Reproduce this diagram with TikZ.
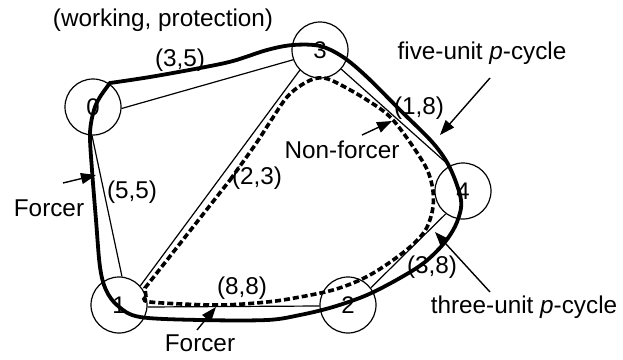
\documentclass[tikz,border=0pt]{standalone}
\usepackage{fontspec}
\setmainfont{Liberation Sans}
\usetikzlibrary{arrows.meta}
\begin{document}
\begin{tikzpicture}[x=1pt,y=-1pt,
  nd/.style={circle,draw,line width=1.2pt,minimum size=56pt,inner sep=0pt,font=\fontsize{24}{28}\selectfont},
  edge/.style={line width=1.2pt},
  fivecyc/.style={line width=3.8pt,line join=miter},
  threecyc/.style={line width=3.6pt,dash pattern=on 6pt off 3pt},
  lbl/.style={font=\fontsize{24.3}{28}\selectfont,inner sep=0pt},
  pointer/.style={line width=1.4pt,-{Triangle[length=15pt,width=11pt]}}]
\useasboundingbox (0,0) rectangle (623,359);
% nodes
\node[nd] (n0) at (93,107) {0};
\node[nd] (n3) at (320,50) {3};
\node[nd] (n4) at (463,191) {4};
\node[nd] (n2) at (348,305) {2};
\node[nd] (n1) at (119,305) {1};
% physical links
\draw[edge] (n0.-3) -- (n3.200);
\draw[edge] (n0.-92) -- (n1.84);
\draw[edge] (n1.42) -- (n3.225);
\draw[edge] (n1.-4) -- (n2.182);
\draw[edge] (n2.37) -- (n4.233);
\draw[edge] (n3.-42) -- (n4.118);
% five-unit p-cycle (sharp corner at node 0)
\draw[fivecyc] plot[smooth,tension=0.55] coordinates {
 (110,83) (150,77) (200,68) (233,61) (267,50) (293,45) (320,46) (343,57)
 (367,77) (400,110) (433,143) (450,168) (461,200) (457,222) (445,242)
 (425,262) (400,278) (367,295) (333,307) (300,315) (267,320) (200,320)
 (140,317) (118,306) (106,290) (100,267) (96,220) (92,170) (90,133) (94,110) (100,97) (110,83)} -- cycle;
% three-unit p-cycle
\draw[threecyc] (146,297) -- (145,288) -- (230,180)
  plot[smooth,tension=0.55] coordinates {(230,180) (255,145) (270,122) (287,97) (303,84) (318,78)
 (333,81) (367,100) (393,120) (423,162) (432,185) (433,207) (426,229) (410,247)
 (383,267) (360,280) (333,290) (300,297) (267,302) (217,305) (150,302) (146,297)};
% labels
\node[lbl] (title) at (163,20) {(working, protection)};
\node[lbl] (l35) at (180,60) {(3,5)};
\node[lbl] (l18) at (419,108) {(1,8)};
\node[lbl] (l23) at (257,178) {(2,3)};
\node[lbl] (l55) at (132,192) {(5,5)};
\node[lbl] (l88) at (242,288) {(8,8)};
\node[lbl] (l38) at (432,267) {(3,8)};
\node[lbl] (tfive) at (482,53) {five-unit \textit{p}-cycle};
\node[lbl] (tnon) at (342,150) {Non-forcer};
\node[lbl] (tforcerA) at (49,208) {Forcer};
\node[lbl] (tforcerB) at (200,343) {Forcer};
\node[lbl] (tthree) at (524,307) {three-unit \textit{p}-cycle};
% pointers
\coordinate (a1s) at (490,78);  \coordinate (a1e) at (440,135);
\coordinate (a2s) at (362,135); \coordinate (a2e) at (392,121);
\coordinate (a3s) at (63,183);  \coordinate (a3e) at (96,175);
\coordinate (a4s) at (197,330); \coordinate (a4e) at (216,307);
\coordinate (a5s) at (490,292); \coordinate (a5e) at (435,232);
\draw[pointer] (a1s) -- (a1e);
\draw[pointer] (a2s) -- (a2e);
\draw[pointer] (a3s) -- (a3e);
\draw[pointer] (a4s) -- (a4e);
\draw[pointer] (a5s) -- (a5e);
\end{tikzpicture}
\end{document}
